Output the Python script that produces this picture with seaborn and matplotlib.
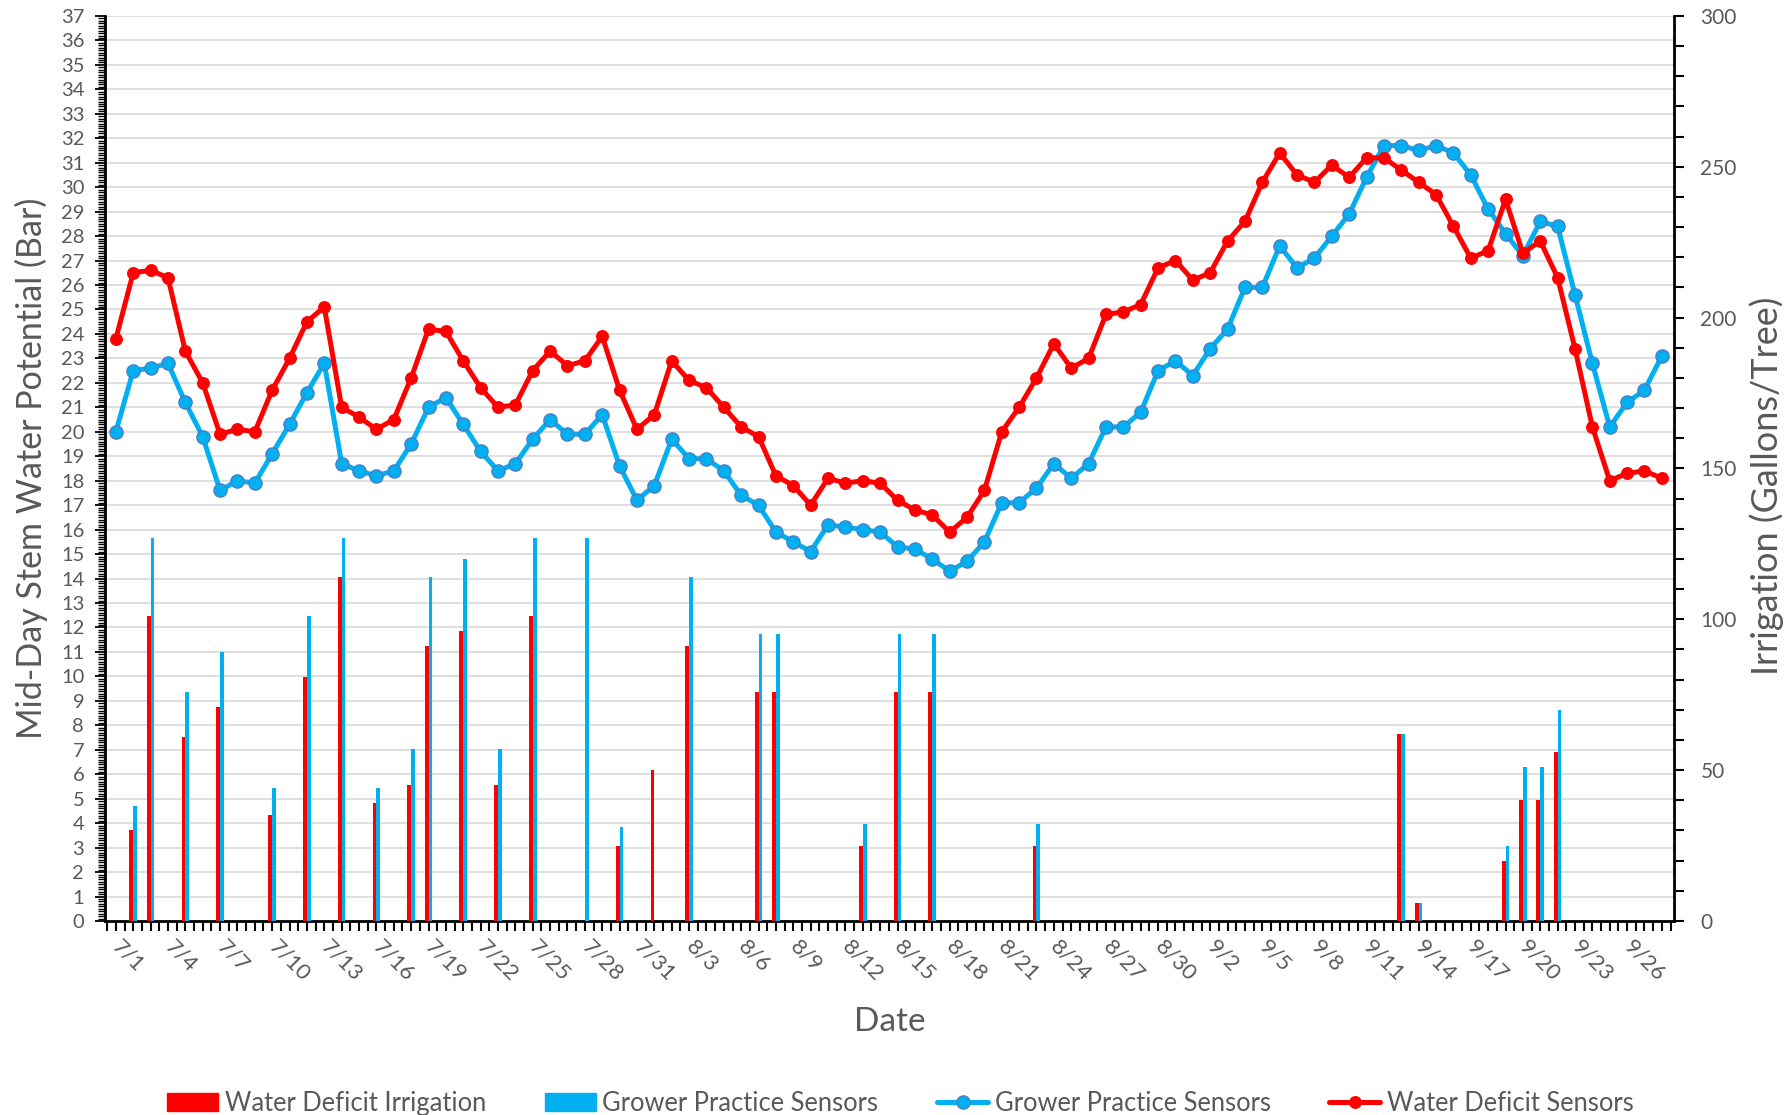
import matplotlib
matplotlib.use("Agg")
import matplotlib.pyplot as plt
from matplotlib.ticker import MultipleLocator
from matplotlib.lines import Line2D
from matplotlib.patches import Patch
import seaborn as sns

# days since 7/1 (7/1 .. 9/28)
day = list(range(90))
date_labels = ["7/1", "7/4", "7/7", "7/10", "7/13", "7/16", "7/19", "7/22", "7/25", "7/28",
               "7/31", "8/3", "8/6", "8/9", "8/12", "8/15", "8/18", "8/21", "8/24", "8/27",
               "8/30", "9/2", "9/5", "9/8", "9/11", "9/14", "9/17", "9/20", "9/23", "9/26"]

# mid-day stem water potential (bar)
wd_sensor = [23.8, 26.5, 26.6, 26.3, 23.3, 22.0, 19.9, 20.1, 20.0, 21.7,
             23.0, 24.5, 25.1, 21.0, 20.6, 20.1, 20.5, 22.2, 24.2, 24.1,
             22.9, 21.8, 21.0, 21.1, 22.5, 23.3, 22.7, 22.9, 23.9, 21.7,
             20.1, 20.7, 22.9, 22.1, 21.8, 21.0, 20.2, 19.8, 18.2, 17.8,
             17.0, 18.1, 17.9, 18.0, 17.9, 17.2, 16.8, 16.6, 15.9, 16.5,
             17.6, 20.0, 21.0, 22.2, 23.6, 22.6, 23.0, 24.8, 24.9, 25.2,
             26.7, 27.0, 26.2, 26.5, 27.8, 28.6, 30.2, 31.4, 30.5, 30.2,
             30.9, 30.4, 31.2, 31.2, 30.7, 30.2, 29.7, 28.4, 27.1, 27.4,
             29.5, 27.3, 27.8, 26.3, 23.4, 20.2, 18.0, 18.3, 18.4, 18.1]
gp_sensor = [20.0, 22.5, 22.6, 22.8, 21.2, 19.8, 17.6, 18.0, 17.9, 19.1,
             20.3, 21.6, 22.8, 18.7, 18.4, 18.2, 18.4, 19.5, 21.0, 21.4,
             20.3, 19.2, 18.4, 18.7, 19.7, 20.5, 19.9, 19.9, 20.7, 18.6,
             17.2, 17.8, 19.7, 18.9, 18.9, 18.4, 17.4, 17.0, 15.9, 15.5,
             15.1, 16.2, 16.1, 16.0, 15.9, 15.3, 15.2, 14.8, 14.3, 14.7,
             15.5, 17.1, 17.1, 17.7, 18.7, 18.1, 18.7, 20.2, 20.2, 20.8,
             22.5, 22.9, 22.3, 23.4, 24.2, 25.9, 25.9, 27.6, 26.7, 27.1,
             28.0, 28.9, 30.4, 31.7, 31.7, 31.5, 31.7, 31.4, 30.5, 29.1,
             28.1, 27.2, 28.6, 28.4, 25.6, 22.8, 20.2, 21.2, 21.7, 23.1]

# irrigation (gallons/tree)
irr_day = [1, 2, 4, 6, 9, 11, 13, 15, 17, 18, 20, 22, 24, 27, 29, 31, 33, 37, 38,
           43, 45, 47, 53, 74, 75, 80, 81, 82, 83]
wd_irrig = [30, 101, 61, 71, 35, 81, 114, 39, 45, 91, 96, 45, 101, 0, 25, 50, 91, 76, 76,
            25, 76, 76, 25, 62, 6, 20, 40, 40, 56]
gp_irrig = [38, 127, 76, 89, 44, 101, 127, 44, 57, 114, 120, 57, 127, 127, 31, 0, 114, 95, 95,
            32, 95, 95, 32, 62, 6, 25, 51, 51, 70]

sns.set_theme(style="white")
plt.rcParams['font.family'] = ['Lato', 'DejaVu Sans']

RED = '#FF0000'
BLUE = '#00B0F0'
GREY = '#595959'

fig = plt.figure(figsize=(17.9, 11.15), dpi=100)
ax = fig.add_axes([0.0587, 0.174, 0.8765, 0.8117])

# left axis: water potential + grid
ax.set_ylim(0, 37)
ax.yaxis.set_major_locator(MultipleLocator(1))
ax.yaxis.set_minor_locator(MultipleLocator(0.1))
ax.grid(axis='y', color='#d9d9d9', lw=1.2)
ax.set_axisbelow(True)
ax.tick_params(axis='y', which='major', direction='out', length=7, width=1.3,
               color='black', labelsize=14.5, labelcolor=GREY, pad=8, left=True)
ax.tick_params(axis='y', which='minor', direction='out', length=5, width=1,
               color='black', left=True)
ax.set_xticks(range(0, 90, 3))
ax.set_xticklabels(date_labels, rotation=-45, ha='left', va='center',
                   rotation_mode='anchor', fontsize=16, color=GREY)
ax.xaxis.set_minor_locator(MultipleLocator(0.5))
ax.tick_params(axis='x', which='both', direction='out', length=7, width=1.5,
               color='black', pad=9, bottom=True)
for s in ['top', 'right']:
    ax.spines[s].set_visible(False)
for s in ['left', 'bottom']:
    ax.spines[s].set_color('black')
    ax.spines[s].set_linewidth(2)

# right axis: irrigation bars
ax2 = ax.twinx()
ax2.bar([d - 0.11 for d in irr_day], wd_irrig, width=0.22, color=RED, linewidth=0)
ax2.bar([d + 0.11 for d in irr_day], gp_irrig, width=0.22, color=BLUE, linewidth=0)
ax2.set_ylim(0, 300)
ax2.yaxis.set_major_locator(MultipleLocator(50))
ax2.yaxis.set_minor_locator(MultipleLocator(10))
ax2.grid(False)
ax2.tick_params(axis='y', which='both', direction='out', length=7, width=1.5,
                color='black', labelsize=15, labelcolor=GREY, pad=12, right=True)
for s in ['top', 'left', 'bottom']:
    ax2.spines[s].set_visible(False)
ax2.spines['right'].set_color('black')
ax2.spines['right'].set_linewidth(2)

# sensor lines on top
ax3 = ax.twinx()
sns.lineplot(x=day, y=gp_sensor, ax=ax3, color=BLUE, lw=3.6, marker='o',
             markersize=9.5, markeredgecolor='#4a7fc8', markeredgewidth=1)
sns.lineplot(x=day, y=wd_sensor, ax=ax3, color=RED, lw=3.6, marker='o',
             markersize=8.3, markeredgecolor=RED, markeredgewidth=1)
ax3.set_ylim(0, 37)
ax3.axis('off')

ax.set_xlim(-0.62, 89.7)
ax.set_xlabel('')
ax.set_ylabel('')

fig.text(0.0173, 0.580, 'Mid-Day Stem Water Potential (Bar)', rotation=90,
         ha='center', va='center', fontsize=24.5, color=GREY)
fig.text(0.987, 0.564, 'Irrigation (Gallons/Tree)', rotation=90,
         ha='center', va='center', fontsize=26, color=GREY)
fig.text(0.497, 0.0834, 'Date', ha='center', va='center', fontsize=24, color=GREY)

handles = [Patch(color=RED), Patch(color=BLUE),
           Line2D([], [], color=BLUE, lw=3.6, marker='o', ms=9.5, mec='#4a7fc8'),
           Line2D([], [], color=RED, lw=3.6, marker='o', ms=8.3, mec=RED)]
labels = ['Water Deficit Irrigation', 'Grower Practice Sensors',
          'Grower Practice Sensors', 'Water Deficit Sensors']
fig.legend(handles, labels, loc='center', bbox_to_anchor=(0.503, 0.010), ncol=4,
           frameon=False, fontsize=18.4, handlelength=2.0, handletextpad=0.25,
           columnspacing=2.3, labelcolor=GREY)

fig.savefig('out.png', dpi=100, facecolor='white')
